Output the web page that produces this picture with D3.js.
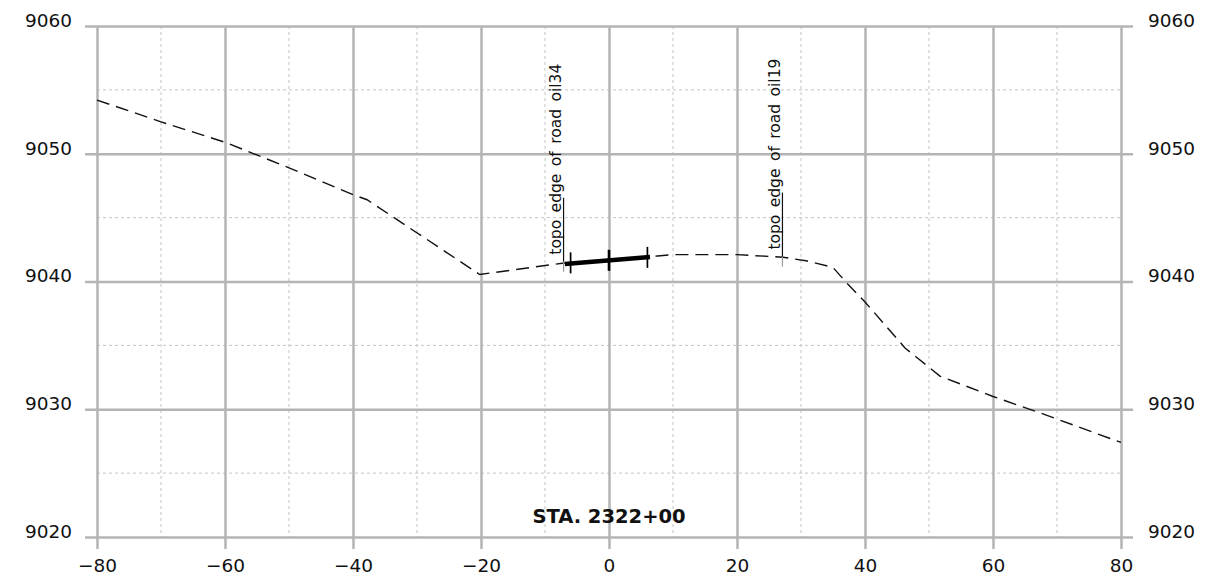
<!DOCTYPE html>
<html>
<head>
<meta charset="utf-8">
<script src="https://cdn.jsdelivr.net/npm/d3@7"></script>
<style>
  html, body { margin: 0; padding: 0; background: #fff; }
  svg { display: block; }
  text { font-family: "DejaVu Sans", sans-serif; fill: #111; }
</style>
</head>
<body>
<svg id="chart" width="1221" height="582"></svg>
<script>
// ---------- data ----------
const xMajorTicks = [-80, -60, -40, -20, 0, 20, 40, 60, 80];
const xMinorTicks = [-70, -50, -30, -10, 10, 30, 50, 70];
const yMajorTicks = [9020, 9030, 9040, 9050, 9060];
const yMinorTicks = [9025, 9035, 9045, 9055];

// existing ground profile (offset, elevation)
const groundOffset = [-80, -70, -60, -50, -40, -37.8, -20.2, -7, 7.6, 10, 20, 27.2, 31, 35, 37.3, 40, 46.25, 48.1, 51.7, 60, 68, 80];
const groundElev   = [9054.2, 9052.5, 9050.9, 9048.9, 9046.8, 9046.4, 9040.55, 9041.45, 9042.0, 9042.1, 9042.1, 9041.9, 9041.6, 9041.1, 9039.8, 9038.4, 9034.8, 9034.05, 9032.6, 9031.0, 9029.6, 9027.4];

// proposed road section
const roadOffset = [-6.9, 6.4];
const roadElev   = [9041.37, 9041.92];
const roadTickOffset = [-6, 0, 6];
const roadTickElev   = [9041.42, 9041.62, 9041.85];

// annotations
const noteLabels = ["topo edge of road oil34", "topo edge of road oil19"];
const noteOffset = [-7.1, 27.1];
const noteElev   = [9041.55, 9041.95];

const stationLabel = "STA. 2322+00";

// ---------- layout ----------
const svg = d3.select("#chart");
const mLeft = 97, mRight = 1121, mTop = 26, mBottom = 537;
const x = d3.scaleLinear().domain([-80, 80]).range([mLeft, mRight]);
const y = d3.scaleLinear().domain([9020, 9060]).range([mBottom, mTop]);

const majorColor = "#b4b4b4";
const minorColor = "#c4c4c4";

// minor grid
svg.append("g").selectAll("line").data(xMinorTicks).join("line")
  .attr("x1", d => x(d)).attr("x2", d => x(d))
  .attr("y1", mTop).attr("y2", mBottom)
  .attr("stroke", minorColor).attr("stroke-width", 1).attr("stroke-dasharray", "3,3");
svg.append("g").selectAll("line").data(yMinorTicks).join("line")
  .attr("x1", mLeft).attr("x2", mRight)
  .attr("y1", d => y(d)).attr("y2", d => y(d))
  .attr("stroke", minorColor).attr("stroke-width", 1).attr("stroke-dasharray", "3,3");

// major grid via axes
const ext = 12;
const xAxis = d3.axisBottom(x).tickValues(xMajorTicks)
  .tickSize(-(mBottom + ext - mTop)).tickPadding(10);
const gx = svg.append("g").attr("transform", `translate(0,${mBottom + ext})`).call(xAxis);
gx.select(".domain").remove();
gx.selectAll(".tick line").attr("stroke", majorColor).attr("stroke-width", 2.5);
gx.selectAll(".tick text").attr("font-size", 18.5).attr("font-family", "DejaVu Sans").attr("fill", "#111");

const yAxisL = d3.axisLeft(y).tickValues(yMajorTicks)
  .tickSize(-(mRight - mLeft + 2 * ext)).tickPadding(13).tickFormat(d3.format("d"));
const gyl = svg.append("g").attr("transform", `translate(${mLeft - ext},0)`).call(yAxisL);
gyl.select(".domain").remove();
gyl.selectAll(".tick line").attr("stroke", majorColor).attr("stroke-width", 2.5);
gyl.selectAll(".tick text").attr("font-size", 18.5).attr("font-family", "DejaVu Sans").attr("fill", "#111").attr("dy", "0.02em");

const yAxisR = d3.axisRight(y).tickValues(yMajorTicks)
  .tickSize(0).tickPadding(15).tickFormat(d3.format("d"));
const gyr = svg.append("g").attr("transform", `translate(${mRight + ext},0)`).call(yAxisR);
gyr.select(".domain").remove();
gyr.selectAll(".tick text").attr("font-size", 18.5).attr("font-family", "DejaVu Sans").attr("fill", "#111").attr("dy", "0.02em");

// ground line
const groundPts = groundOffset.map((o, i) => [o, groundElev[i]]);
const line = d3.line().x(d => x(d[0])).y(d => y(d[1]));
svg.append("path").datum(groundPts)
  .attr("d", line).attr("fill", "none")
  .attr("stroke", "#111").attr("stroke-width", 1.4)
  .attr("stroke-dasharray", "13,7");

// annotations
noteLabels.forEach((t, i) => {
  const px = x(noteOffset[i]), py = y(noteElev[i]);
  svg.append("line").attr("x1", px).attr("x2", px)
    .attr("y1", py).attr("y2", py + 10)
    .attr("stroke", "#999").attr("stroke-width", 1.2);
  svg.append("line").attr("x1", px).attr("x2", px)
    .attr("y1", py - 64).attr("y2", py)
    .attr("stroke", "#111").attr("stroke-width", 1.2);
  svg.append("text")
    .attr("transform", `translate(${px - 2.5},${py - 7}) rotate(-90)`)
    .attr("font-size", 15.5).attr("word-spacing", "2.5px")
    .text(t);
});

// road
const roadPts = roadOffset.map((o, i) => [o, roadElev[i]]);
svg.append("path").datum(roadPts).attr("d", line)
  .attr("fill", "none").attr("stroke", "#000").attr("stroke-width", 4.5);
roadTickOffset.forEach((o, i) => {
  const px = x(o), py = y(roadTickElev[i]);
  svg.append("line").attr("x1", px).attr("x2", px)
    .attr("y1", py - 11).attr("y2", py + 10)
    .attr("stroke", "#000").attr("stroke-width", o === 0 ? 2.6 : 1.7);
});

// station label
svg.append("text").attr("x", x(0)).attr("y", 523)
  .attr("text-anchor", "middle").attr("font-size", 19.5).attr("font-weight", "bold")
  .text(stationLabel);
</script>
</body>
</html>
